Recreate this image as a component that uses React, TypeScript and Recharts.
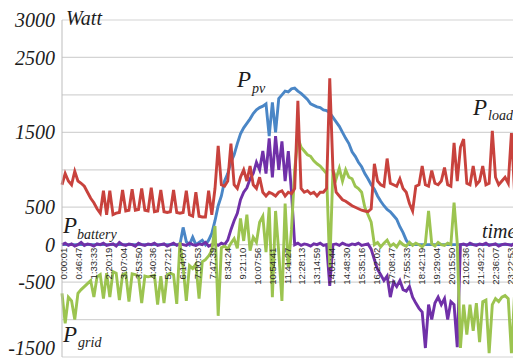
import { LineChart, Line, XAxis, YAxis, CartesianGrid } from 'recharts'

// 10-minute samples over one day (145 points, 0:00 .. 24:00)
const STEP_SEC = 600

const LOAD = [
  800, 950, 850, 800, 980, 850, 820, 780, 700, 620,
  560, 480, 420, 720, 400, 720, 400, 420, 430, 730,
  450, 460, 740, 460, 470, 750, 460, 450, 760, 440,
  450, 730, 440, 430, 440, 730, 430, 420, 430, 720,
  400, 380, 700, 380, 370, 370, 720, 400, 750, 1320,
  800, 780, 850, 1350, 800, 750, 900, 1000, 850, 1050,
  800, 750, 900, 700, 650, 700, 680, 650, 700, 720,
  650, 700, 680, 750, 1920, 750, 700, 720, 680, 700,
  650, 700, 700, 750, 2220, 1000, 700, 650, 600, 580,
  550, 520, 500, 480, 460, 450, 440, 480, 1080, 850,
  800, 780, 1150, 820, 800, 780, 880, 750, 700, 550,
  450, 780, 800, 1050, 800, 780, 990, 820, 800, 850,
  1030, 800, 780, 1360, 850, 1300, 1410, 820, 800, 1050,
  800, 850, 1050, 800, 820, 1520, 900, 800, 850, 900,
  820, 1490, 680, 650, 660,
]

const PV = [
  0, 0, 0, 0, 0, 0, 0, 0, 0, 0,
  0, 0, 0, 0, 0, 0, 0, 0, 0, 0,
  0, 0, 0, 0, 0, 0, 0, 0, 0, 0,
  0, 0, 0, 0, 0, 0, 0, 0, 230, 40,
  0, 100, 0, 30, 60, 0, 60, 150, 320, 520,
  650, 850, 950, 1100, 1200, 1350, 1480, 1560, 1620, 1680,
  1750, 1800, 1830, 1850, 1880, 1450, 1900, 1500, 1950, 2000,
  2050, 2040, 2080, 2090, 2050, 2020, 1980, 1940, 1880, 1860,
  1840, 1830, 1800, 1790, 1760, 1700, 1640, 1580, 1500, 1420,
  1350, 1240, 1180, 1100, 1040, 950, 880, 800, 740, 650,
  580, 520, 470, 440, 390, 340, 240, 160, 60, 0,
  0, 0, 0, 0, 0, 0, 0, 0, 0, 0,
  0, 0, 0, 0, 0, 0, 0, 0, 0, 0,
  0, 0, 0, 0, 0, 0, 0, 0, 0, 0,
  0, 0, 0, 0, 0,
]

const BATTERY = [
  0, 20, -10, 10, -20, 0, 30, -10, 10, 0,
  -20, 10, 0, 20, -10, 0, 10, -20, 30, 0,
  -10, 10, 0, -20, 20, 0, -10, 10, 0, 20,
  -10, 0, 10, -20, 0, 20, -10, 10, 0, -10,
  20, 0, -10, 10, 0, 30, -20, 0, 10, -10,
  20, 0, 60, 200, 320, 420, 600, 700, 760, 880,
  950, 1100, 1000, 1250, 950, 1420, 900, 1450, 1000, 1380,
  850, 1250, 700, 0, 20, -10, 10, 0, -20, 10,
  0, 20, -10, 0, -550, 0, 10, -10, 20, 0,
  -10, 10, 0, 20, -10, 0, 10, -60, -200, -330,
  -400, -480, -420, -700, -500, -560, -480, -600, -620, -560,
  -700, -780, -850, -900, -1380, -800, -1000, -780, -700, -800,
  -720, -1000, -760, -800, -1370, 0, 10, -10, 20, 0,
  -10, 10, 0, 20, -10, 0, 10, -20, 0, 10,
  0, -10, 20, 0, 10,
]

const GRID = [
  -650, -1050, -700, -750, -1000, -650, -600, -560, -520, -480,
  -700, -430, -400, -720, -380, -700, -360, -380, -740, -400,
  -380, -760, -390, -400, -420, -780, -420, -430, -420, -410,
  -800, -420, -780, -400, -380, -400, -790, 30, -300, -750,
  -280, -320, -260, -720, -230, -200, -150, -80, 250, -950,
  -40, -20, -60, 20, 80, -50, 350, 50, 400, -80,
  100, 30, 300, 380, -100, 500, -700, 450, -100, -750,
  550, -300, 200, 1000, 1430, 1300, 1250, 1200, 1180, 1120,
  1080, 1050, 1000, 950, -300, 1000, 880, 1020, 850, 1000,
  900, 880, 780, 750, 700, 500, 400, 300, 0, 30,
  -30, 20, 60, -20, 10, -30, 40, 0, -20, 30,
  -10, 20, 0, -30, 20, 450, 10, -20, 30, 0,
  -10, 20, 0, 560, 20, -1380, -800, -1200, -800, -1150,
  -780, -1300, -760, -740, -1450, -800, -720, -760, -700, -680,
  -720, -1450, -640, -620, -600,
]

const TIME_LABELS = [
  '0:00:01', '0:46:47', '1:33:33', '2:20:19', '3:07:04', '3:53:50', '4:40:36',
  '5:27:21', '6:14:07', '7:00:53', '7:47:39', '8:34:24', '9:21:10', '10:07:56',
  '10:54:41', '11:41:27', '12:28:13', '13:14:59', '14:01:44', '14:48:30',
  '15:35:16', '16:22:02', '17:08:47', '17:55:33', '18:42:19', '19:29:04',
  '20:15:50', '21:02:36', '21:49:22', '22:36:07', '23:22:53',
]

const Y_TICKS = [-1500, -1000, -500, 0, 500, 1000, 1500, 2000, 2500, 3000]
const Y_LABELLED = [-1500, -500, 0, 500, 1500, 2500, 3000]

const toSec = (s: string) => {
  const [h, m, sec] = s.split(':').map(Number)
  return h * 3600 + m * 60 + sec
}
const TIME_TICKS = TIME_LABELS.map(toSec)

const data = LOAD.map((load, i) => ({
  t: i * STEP_SEC,
  load,
  pv: PV[i],
  battery: BATTERY[i],
  grid: GRID[i],
}))

const W = 513
const H = 352
const MARGIN = { top: 12, right: 0, bottom: 0, left: 0 }
const X_AXIS_H = 3
const Y_MIN = -1500
const Y_MAX = 3000
const PLOT_H = H - MARGIN.top - MARGIN.bottom - X_AXIS_H
const ZERO_Y = MARGIN.top + (PLOT_H * Y_MAX) / (Y_MAX - Y_MIN)

const SERIF = '"Liberation Serif", "Times New Roman", serif'
const INK = '#1c1c1c'

const TimeTick = (props: any) => {
  const { x, payload } = props
  const idx = TIME_TICKS.indexOf(payload.value)
  const ax = x + 5
  const ay = ZERO_Y + 3
  return (
    <text
      x={ax}
      y={ay}
      transform={`rotate(-90 ${ax} ${ay})`}
      textAnchor="end"
      fontSize={9.5}
      fontFamily='"Liberation Sans", Arial, sans-serif'
      fill="#2a2a2a"
    >
      {idx >= 0 ? TIME_LABELS[idx] : ''}
    </text>
  )
}

// y labels; the bottom one is lifted a little so it stays inside the page
const WattTick = (props: any) => {
  const { x, y, payload } = props
  if (!Y_LABELLED.includes(payload.value)) return null
  const lift = payload.value === Y_MIN ? -9 : 0
  return (
    <text
      x={x}
      y={y + lift}
      dy="0.355em"
      textAnchor="end"
      fontFamily={SERIF}
      fontStyle="italic"
      fontSize={20}
      fill={INK}
    >
      {payload.value}
    </text>
  )
}

const Sub = ({ x, y, main, sub, subDx, subDy, size = 23, subSize = 14 }: any) => (
  <text x={x} y={y} fontFamily={SERIF} fontStyle="italic" fill={INK}>
    <tspan fontSize={size}>{main}</tspan>
    <tspan fontSize={subSize} dx={subDx} dy={subDy}>{sub}</tspan>
  </text>
)

export default function App() {
  return (
    <div style={{ position: 'relative', width: W, height: H }}>
      <LineChart width={W} height={H} data={data} margin={MARGIN}>
        <CartesianGrid vertical={false} stroke="#d4d4d4" strokeWidth={1.2} />
        <XAxis
          dataKey="t"
          type="number"
          domain={[0, 86400]}
          ticks={TIME_TICKS}
          interval={0}
          height={X_AXIS_H}
          axisLine={false}
          tickLine={false}
          tickSize={0}
          tick={<TimeTick />}
        />
        <YAxis
          type="number"
          domain={[Y_MIN, Y_MAX]}
          ticks={Y_TICKS}
          interval={0}
          width={54}
          axisLine={{ stroke: '#bdbdbd' }}
          tickLine={false}
          tickSize={0}
          tickMargin={7}
          tick={<WattTick />}
        />
        <Line dataKey="pv" stroke="#4a86c6" strokeWidth={2.9} dot={false} isAnimationActive={false} />
        <Line dataKey="battery" stroke="#7030a8" strokeWidth={2.9} dot={false} isAnimationActive={false} />
        <Line dataKey="grid" stroke="#9cc450" strokeWidth={2.9} dot={false} isAnimationActive={false} />
        <Line dataKey="load" stroke="#c8423d" strokeWidth={2.9} dot={false} isAnimationActive={false} />
      </LineChart>
      <svg
        width={W}
        height={H}
        style={{ position: 'absolute', left: 0, top: 0, pointerEvents: 'none' }}
      >
        <text x={58} y={17} fontFamily={SERIF} fontStyle="italic" fontSize={20} fill={INK}>
          Watt
        </text>
        <text x={474} y={230} fontFamily={SERIF} fontStyle="italic" fontSize={20} fill={INK}>
          time
        </text>
        <Sub x={229} y={79} main="P" sub="pv" subDx={1} subDy={6} />
        <Sub x={465} y={107} main="P" sub="load" subDx={1} subDy={5} />
        <Sub x={55} y={225} main="P" sub="battery" subDx={0} subDy={6} />
        <Sub x={55} y={334} main="P" sub="grid" subDx={1} subDy={5} />
      </svg>
    </div>
  )
}
